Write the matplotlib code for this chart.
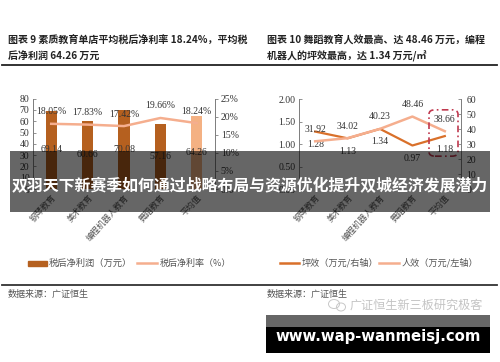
import matplotlib
matplotlib.use("Agg")
import matplotlib.pyplot as plt
from matplotlib.patches import Rectangle, FancyBboxPatch, Ellipse
from matplotlib.lines import Line2D

W, H = 500, 362
CJK = ['Noto Sans CJK SC', 'DejaVu Sans']
SERIF = ['Liberation Serif', 'DejaVu Serif']
plt.rcParams['font.family'] = CJK

# ---- data ----
cats_left = ['钢琴教育', '美术教育', '编程机器人教育', '舞蹈教育', '平均值']
profit = [69.14, 60.66, 70.08, 57.16, 64.26]
margin = [18.05, 17.83, 17.42, 19.66, 18.24]
cats_right = ['钢琴教育', '美术教育', '编程机器人教育', '舞蹈教育', '平均值']
floor_eff = [1.28, 1.13, 1.34, 0.97, 1.18]
staff_eff = [31.92, 34.02, 40.23, 48.46, 38.66]
left_ticks = [0, 10, 20, 30, 40, 50, 60, 70, 80]
left_ticks2 = [0, 5, 10, 15, 20, 25]
right_ticks = [0, 0.5, 1.0, 1.5, 2.0]
right_ticks2 = [0, 10, 20, 30, 40, 50, 60]

title_left = ['图表 9 素质教育单店平均税后净利率 18.24%，平均税', '后净利润 64.26 万元']
title_right = ['图表 10 舞蹈教育人效最高、达 48.46 万元，编程', '机器人的坪效最高，达 1.34 万元/㎡']
source = '数据来源：广证恒生'
banner = '双羽天下新赛季如何通过战略布局与资源优化提升双城经济发展潜力'
watermark = '广证恒生新三板研究极客'
site = 'www.wap-wanmeisj.com'

DARK = '#B5601F'
AVG = '#F4B183'
LINE_L = '#F5AE8E'
LINE_D = '#D9702A'
AXC = '#808080'
TXT = '#333333'

fig = plt.figure(figsize=(W / 100, H / 100), dpi=100, facecolor='white')


def fx(x): return x / W
def fy(y): return 1 - y / H
def box(x0, y0, x1, y1): return [fx(x0), fy(y1), (x1 - x0) / W, (y1 - y0) / H]
def ftext(x, y, s, **kw):
    kw.setdefault('va', 'center')
    return fig.text(fx(x), fy(y), s, **kw)


def style(ax, ax2, right_in=False):
    for a in (ax, ax2):
        a.patch.set_visible(False)
        a.spines['top'].set_visible(False)
        a.spines['bottom'].set_visible(False)
        a.spines['left'].set_color(AXC)
        a.spines['right'].set_color(AXC)
        a.spines['left'].set_linewidth(0.7)
        a.spines['right'].set_linewidth(0.7)
        for lab in a.get_yticklabels():
            lab.set_fontfamily(SERIF)
    ax.tick_params(axis='y', direction='in', length=2.2, width=0.6, color=AXC,
                   labelsize=7, labelcolor=TXT, pad=2.5)
    ax2.tick_params(axis='y', direction='in' if right_in else 'out', length=2.2,
                    width=0.6, color=AXC, labelsize=7, labelcolor=TXT, pad=4 if right_in else 2)
    ax.tick_params(axis='x', length=0, pad=3, labelsize=6, labelcolor='#555555')
    plt.setp(ax.get_xticklabels(), rotation=48, ha='right', rotation_mode='anchor')


def lab(ax, x, y, s, dy):
    ax.annotate(s, (x, y), xytext=(0, dy * 0.72), textcoords='offset points', ha='center',
                va='center', fontsize=7, color=TXT, family=SERIF, zorder=6)


# ---- left chart ----
ax = fig.add_axes(box(33, 98.7, 215, 189))
xs = list(range(len(cats_left)))
cols = [DARK] * 4 + [AVG]
ax.bar(xs, profit, width=0.31, color=cols, zorder=2)
ax.set_xlim(-0.5, 4.5)
ax.set_ylim(0, 80)
ax.set_yticks(left_ticks)
ax.set_xticks(xs)
ax.set_xticklabels(cats_left)
ax2 = ax.twinx()
ax2.set_ylim(0, 25)
ax2.set_yticks(left_ticks2)
ax2.set_yticklabels([f'{t}%' for t in left_ticks2])
ax2.plot(xs, margin, color=LINE_L, lw=1.8, zorder=4)
style(ax, ax2)
for x, v in zip(xs, profit):
    lab(ax, x, v / 2, f'{v:.2f}', 0)
for x, v in zip(xs, margin):
    lab(ax2, x, v, f'{v:.2f}%', 12)

# ---- right chart ----
bx = fig.add_axes(box(299, 99.3, 461, 189))
xs2 = list(range(len(cats_right)))
bx.plot(xs2, floor_eff, color=LINE_D, lw=1.6, zorder=3)
bx.set_xlim(-0.5, 4.5)
bx.set_ylim(0, 2)
bx.set_yticks(right_ticks)
bx.set_yticklabels([f'{t:.2f}' for t in right_ticks])
bx.set_xticks(xs2)
bx.set_xticklabels(cats_right)
bx2 = bx.twinx()
bx2.set_ylim(0, 60)
bx2.set_yticks(right_ticks2)
bx2.plot(xs2, staff_eff, color=LINE_L, lw=1.8, zorder=4)
style(bx, bx2, right_in=True)
for x, v in zip(xs2, floor_eff):
    lab(bx, x, v, f'{v:.2f}', -13)
for x, v in zip(xs2, staff_eff):
    lab(bx2, x, v, f'{v:.2f}', 12)

# ---- legends ----
fig.add_artist(Rectangle((fx(28), fy(265.5)), 19 / W, 5 / H, transform=fig.transFigure, color=DARK))
ftext(49, 263, '税后净利润（万元）', fontsize=6.7, color='#555555')
fig.add_artist(Line2D([fx(137), fx(157)], [fy(263)] * 2, color=LINE_L, lw=1.8))
ftext(160, 263, '税后净利率（%）', fontsize=6.5, color='#555555')
fig.add_artist(Line2D([fx(280), fx(299)], [fy(263)] * 2, color=LINE_D, lw=1.8))
ftext(302, 263, '坪效（万元/右轴）', fontsize=6.6, color='#555555')
fig.add_artist(Line2D([fx(379), fx(399)], [fy(263)] * 2, color=LINE_L, lw=1.8))
ftext(402, 263, '人效（万元/左轴）', fontsize=6.6, color='#555555')

# ---- highlight box ----
fig.add_artist(FancyBboxPatch((fx(432), fy(154)), 23 / W, 42 / H,
                              boxstyle='round,pad=0.006,rounding_size=0.012',
                              transform=fig.transFigure, fill=False, ec='#C0394F', lw=1.2,
                              ls=(0, (4, 2, 1, 2)), zorder=3))

# ---- titles / rules / sources ----
ftext(8, 40.5, title_left[0], fontsize=7.2, weight='bold', color='#222222')
ftext(8, 56.5, title_left[1], fontsize=7.2, weight='bold', color='#222222')
ftext(267, 40.5, title_right[0], fontsize=7.2, weight='bold', color='#222222')
ftext(267, 56.5, title_right[1], fontsize=7.2, weight='bold', color='#222222')
fig.add_artist(Line2D([fx(2), fx(497)], [fy(64.5)] * 2, color='#222222', lw=1.3))
fig.add_artist(Line2D([fx(2), fx(497)], [fy(285)] * 2, color='#333333', lw=1.3))
ftext(8, 294, source, fontsize=6.5, color='#555555')
ftext(267, 294, source, fontsize=6.5, color='#555555')

# ---- watermark ----
ftext(350, 305, watermark, fontsize=8.7, color='#C4C4C4', zorder=4)
fig.add_artist(Ellipse((fx(334), fy(304)), 11 / W, 9 / H, transform=fig.transFigure,
                       fill=False, ec='#C8C8C8', lw=0.7, zorder=4))
fig.add_artist(Ellipse((fx(341), fy(307)), 9 / W, 8 / H, transform=fig.transFigure,
                       fill=False, ec='#C8C8C8', lw=0.7, zorder=4))

# ---- overlays ----
fig.add_artist(Rectangle((fx(10), fy(212)), 480 / W, 61 / H, transform=fig.transFigure,
                         color='black', alpha=0.6, lw=0, zorder=8))
ftext(250, 186.5, banner, fontsize=11.45, weight='bold', color='white', ha='center', zorder=9)
fig.add_artist(Rectangle((fx(266), fy(327)), 224 / W, 12 / H, transform=fig.transFigure,
                         color='black', alpha=0.6, lw=0, zorder=8))
fig.add_artist(Rectangle((fx(266), fy(353)), 224 / W, 26 / H, transform=fig.transFigure,
                         color='black', lw=0, zorder=8))
ftext(378, 337, site, fontsize=10.7, weight='bold', color='white', ha='center',
      family='DejaVu Sans', zorder=9)

fig.savefig('out.png', dpi=100)
